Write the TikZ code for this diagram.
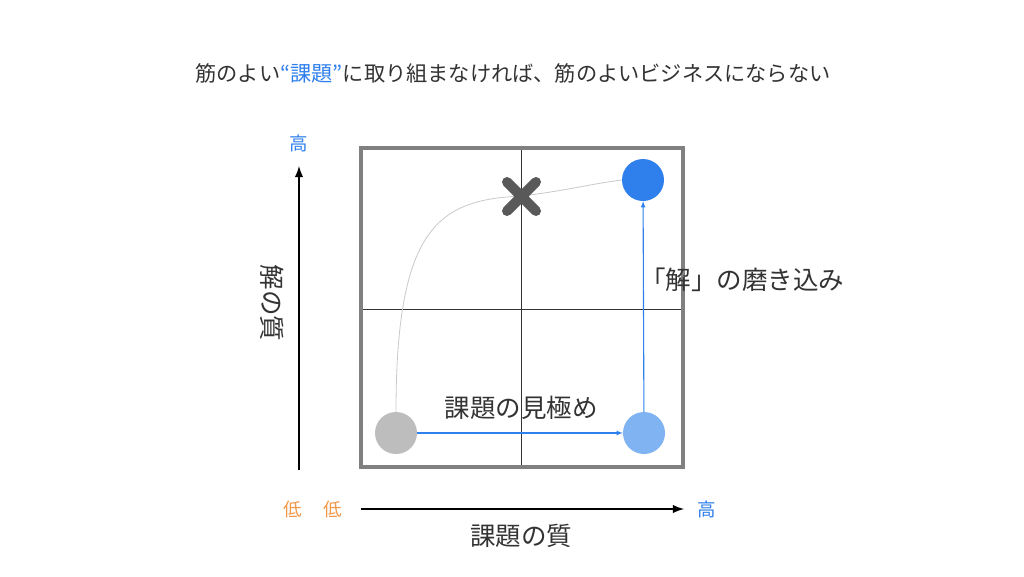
\documentclass[tikz,border=0pt]{standalone}
\usepackage{fontspec}
\setmainfont{Noto Sans CJK JP}
\usepackage{tikz}
\usetikzlibrary{arrows}
\usetikzlibrary{shapes}

\definecolor{txtgray}{HTML}{333333}
\definecolor{qblue}{HTML}{2F80ED}
\definecolor{qlightblue}{HTML}{80B3F2}
\definecolor{qgray}{HTML}{BDBDBD}
\definecolor{qorange}{HTML}{F2994A}
\definecolor{frame}{HTML}{808080}
\definecolor{cross}{HTML}{595959}

\tikzset{
    lbl/.style={text=txtgray, font=\fontsize{25.5}{30}\selectfont, inner sep=0pt},
    axlbl/.style={font=\fontsize{18.5}{22}\selectfont, inner sep=0pt},
    dot/.style={circle, minimum size=42pt, inner sep=0pt},
    axis/.style={draw=black, line width=2.8pt, -latex},
    move/.style={draw=qblue, line width=1.1pt, -latex}
}

\begin{document}
\begin{tikzpicture}[x=1pt, y=-1pt]
    \useasboundingbox (0,0) rectangle (1024,576);
    \fill[white] (0,0) rectangle (1024,576);

    \node (title) [text=txtgray, font=\fontsize{21.2}{25}\selectfont] at (513,73) {筋のよい\textcolor{qblue}{“課題”}に取り組まなければ、筋のよいビジネスにならない};

    % matrix
    \draw[black!80, line width=0.8pt] (521,148) -- (521,467);
    \draw[black!80, line width=0.8pt] (361,309) -- (683,309);
    \draw[frame, line width=4pt] (361,148) rectangle (683,467);

    \node (low) [dot, fill=qgray] at (396,433) {};
    \node (mid) [dot, fill=qlightblue] at (644,433) {};
    \node (top) [dot, fill=qblue] at (643,180) {};

    \draw[qgray!80, line width=0.8pt] (low.north) .. controls (396,225) and (440,200) .. (521,196) .. controls (565,191) and (590,184) .. (top.west);
    \draw[cross, line width=10pt, line cap=round] (507,182) -- (536,211) (536,182) -- (507,211);

    \draw[move] (low) -- (mid);
    \draw[move] (mid) -- (top);
    \node (findlbl) [lbl] at (521,408) {課題の見極め};
    \node (polish) [lbl] at (742,280) {「解」の磨き込み};

    % axes
    \draw[axis] (299,470) -- (299,166);
    \draw[axis] (361,509) -- (684,509);
    \node (yhigh) [axlbl, text=qblue] at (299,143) {高};
    \node (xhigh) [axlbl, text=qblue] at (707,509) {高};
    \node (ylow) [axlbl, text=qorange] at (293,509) {低};
    \node (xlow) [axlbl, text=qorange] at (333,509) {低};
    \node (xname) [lbl] at (521,536) {課題の質};
    \node (yname) [lbl, rotate=-90] at (272,303) {解の質};
\end{tikzpicture}
\end{document}
